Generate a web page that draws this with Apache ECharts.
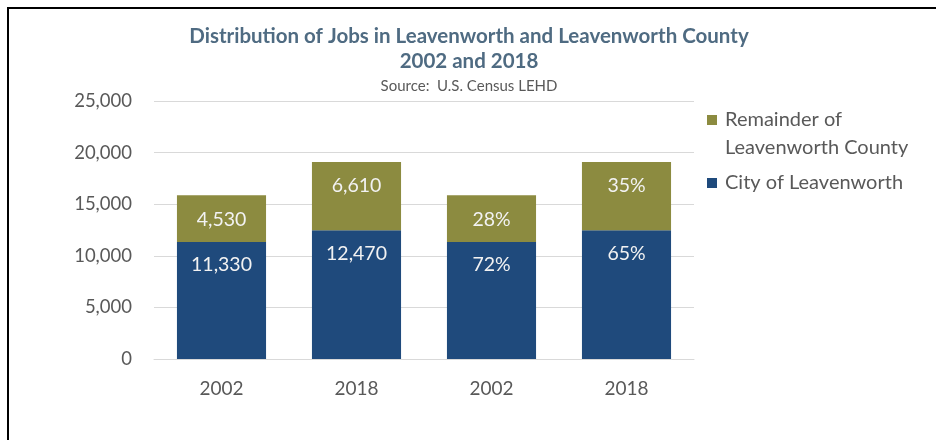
<!DOCTYPE html>
<html>
<head>
<meta charset="utf-8">
<script src="https://cdn.jsdelivr.net/npm/echarts@6/dist/echarts.min.js"></script>
<style>html,body{margin:0;padding:0;background:#fff;}#c{width:936px;height:440px;}</style>
</head>
<body>
<div id="c"></div>
<script>
const categories = ['2002', '2018', '2002', '2018'];
const cityValues = [11330, 12470, 11330, 12470];
const remainderValues = [4530, 6610, 4530, 6610];
const cityLabels = ['11,330', '12,470', '72%', '65%'];
const remainderLabels = ['4,530', '6,610', '28%', '35%'];
const yTicks = [0, 5000, 10000, 15000, 20000, 25000];

const FONT = 'Lato, "Open Sans", sans-serif';
const chart = echarts.init(document.getElementById('c'), null, {renderer: 'canvas'});
chart.setOption({
  animation: false,
  backgroundColor: '#fff',
  title: [{
    text: 'Distribution of Jobs in Leavenworth and Leavenworth County\n2002 and 2018',
    left: 469, top: 24, textAlign: 'center', padding: 0,
    textStyle: {fontFamily: FONT, fontSize: 20.5, fontWeight: 'bold', color: '#4f6b82', lineHeight: 25}
  }, {
    text: 'Source:  U.S. Census LEHD',
    left: 469, top: 77, textAlign: 'center', padding: 0,
    textStyle: {fontFamily: FONT, fontSize: 15, fontWeight: 'normal', color: '#595959', lineHeight: 18}
  }],
  graphic: [
    {type: 'line', shape: {x1: 7, y1: 8, x2: 936, y2: 8}, style: {stroke: '#000', lineWidth: 2}},
    {type: 'line', shape: {x1: 8, y1: 7, x2: 8, y2: 440}, style: {stroke: '#000', lineWidth: 2}}
  ],
  legend: [{
    data: ['Remainder of Leavenworth County'],
    orient: 'vertical', left: 707, top: 78, padding: 0,
    icon: 'rect', itemWidth: 10, itemHeight: 10, itemGap: 8,
    formatter: () => ' \nRemainder of\nLeavenworth County',
    textStyle: {fontFamily: FONT, fontSize: 20, color: '#595959', lineHeight: 28, padding: [0, 0, 0, 3]}
  }, {
    data: ['City of Leavenworth'],
    orient: 'vertical', left: 707, top: 173, padding: 0,
    icon: 'rect', itemWidth: 10, itemHeight: 10,
    textStyle: {fontFamily: FONT, fontSize: 20, color: '#595959', padding: [0, 0, 0, 3]}
  }],
  grid: {left: 154, right: 242, top: 101, bottom: 81},
  xAxis: {
    type: 'category', data: categories,
    axisLine: {show: true, lineStyle: {color: '#d9d9d9'}},
    axisTick: {show: false},
    axisLabel: {fontFamily: FONT, fontSize: 19, color: '#595959', margin: 20}
  },
  yAxis: {
    type: 'value', min: yTicks[0], max: yTicks[yTicks.length - 1], interval: 5000,
    axisLine: {show: false}, axisTick: {show: false},
    splitLine: {lineStyle: {color: '#d9d9d9'}},
    axisLabel: {fontFamily: FONT, fontSize: 18.5, color: '#595959', margin: 22,
      formatter: v => v.toLocaleString('en-US')}
  },
  series: [{
    name: 'City of Leavenworth', type: 'bar', stack: 'a', barWidth: '66%',
    data: cityValues,
    itemStyle: {color: '#1f4a7c'},
    label: {show: true, position: 'insideTop', distance: 13, fontFamily: FONT, fontSize: 19.5, color: '#f2f2f2',
      formatter: p => cityLabels[p.dataIndex]}
  }, {
    name: 'Remainder of Leavenworth County', type: 'bar', stack: 'a', barWidth: '66%',
    data: remainderValues,
    itemStyle: {color: '#8c8b40'},
    label: {show: true, position: 'insideTop', distance: 14, fontFamily: FONT, fontSize: 19.5, color: '#f2f2f2',
      formatter: p => remainderLabels[p.dataIndex]}
  }]
});
</script>
</body>
</html>
